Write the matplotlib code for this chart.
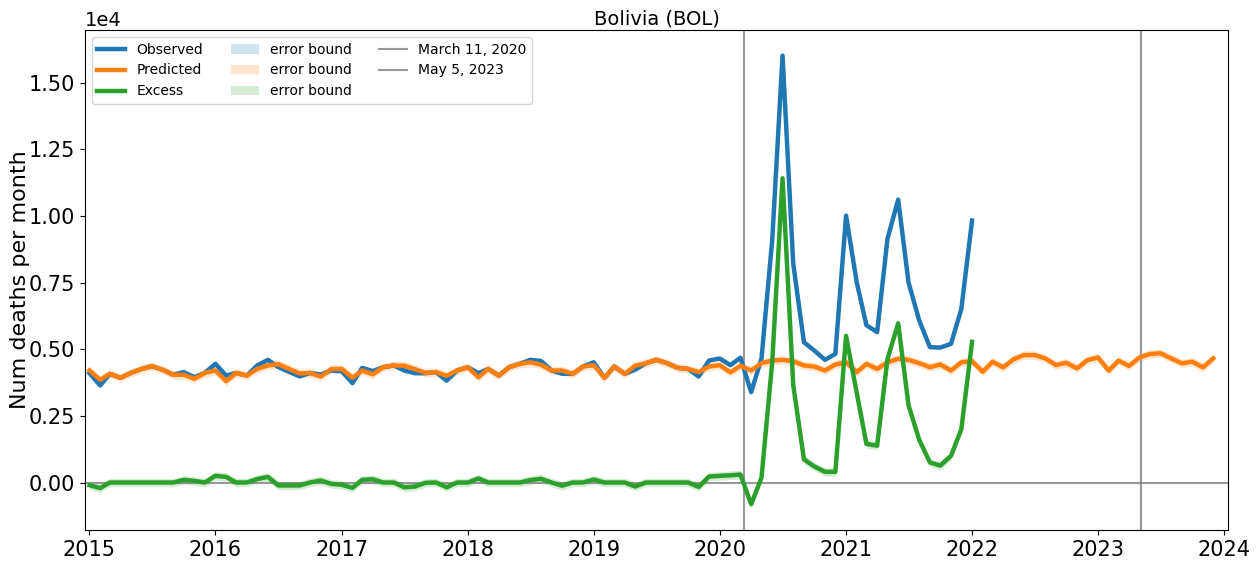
import matplotlib
matplotlib.use("Agg")
import matplotlib.pyplot as plt
import matplotlib.dates as mdates
import numpy as np
import pandas as pd

title = "Bolivia (BOL)"
first_month = "2015-01-01"

# monthly deaths, Jan 2015 .. Jan 2022
observed = [
    4100, 3640, 4075, 3925, 4110, 4260, 4360, 4225, 4040, 4140, 3950, 4110,
    4450, 4010, 4110, 4010, 4390, 4600, 4330, 4150, 3980, 4110, 4050, 4200,
    4175, 3725, 4300, 4180, 4325, 4390, 4200, 4100, 4100, 4140, 3820, 4200,
    4325, 4100, 4260, 4010, 4325, 4450, 4600, 4560, 4200, 4080, 4075, 4350,
    4510, 3925, 4350, 4075, 4230, 4475, 4600, 4475, 4300, 4260, 3975, 4575,
    4650, 4400, 4680, 3390, 4650, 9075, 16010, 8200, 5260, 4950, 4600, 4825,
    10010, 7500, 5900, 5640, 9140, 10610, 7500, 6075, 5075, 5060, 5200, 6510,
    9825,
]
# model baseline, Jan 2015 .. Dec 2023
predicted = [
    4200, 3850, 4075, 3925, 4110, 4260, 4360, 4225, 4040, 4040, 3890, 4110,
    4200, 3800, 4110, 4010, 4260, 4390, 4440, 4260, 4090, 4110, 3975, 4250,
    4260, 3925, 4200, 4060, 4325, 4390, 4380, 4250, 4110, 4140, 4000, 4200,
    4325, 3950, 4260, 4010, 4325, 4450, 4510, 4420, 4200, 4200, 4075, 4350,
    4400, 3925, 4350, 4075, 4380, 4475, 4600, 4475, 4300, 4260, 4140, 4350,
    4400, 4130, 4380, 4200, 4475, 4575, 4600, 4550, 4390, 4350, 4200, 4425,
    4510, 4140, 4450, 4260, 4510, 4640, 4600, 4475, 4325, 4425, 4200, 4510,
    4550, 4155, 4530, 4320, 4620, 4780, 4780, 4655, 4405, 4490, 4280, 4590,
    4690, 4195, 4570, 4370, 4690, 4820, 4845, 4655, 4470, 4530, 4320, 4655,
]
err_observed = 40
err_predicted = 160

markers = ["2020-03-11", "2023-05-05"]
marker_labels = ["March 11, 2020", "May 5, 2023"]

dates = pd.date_range(first_month, periods=len(predicted), freq="MS")
obs = np.array(observed, dtype=float)
pred = np.array(predicted, dtype=float)
obs_dates = dates[:len(obs)]
excess = obs - pred[:len(obs)]

fig = plt.figure(figsize=(12.59, 5.61), dpi=100)
ax = fig.add_axes([0.0675, 0.0553, 0.9080, 0.8912])

blue, orange, green = "#1f77b4", "#ff7f0e", "#2ca02c"
lw = 3.2

l1, = ax.plot(obs_dates, obs, color=blue, lw=lw, label="Observed", zorder=3)
l2, = ax.plot(dates, pred, color=orange, lw=lw, label="Predicted", zorder=3)
l3, = ax.plot(obs_dates, excess, color=green, lw=lw, label="Excess", zorder=3)

f1 = ax.fill_between(obs_dates, obs - err_observed, obs + err_observed,
                     color=blue, alpha=0.2, lw=0, label="error bound")
f2 = ax.fill_between(dates, pred - err_predicted, pred + err_predicted,
                     color=orange, alpha=0.2, lw=0, label="error bound")
f3 = ax.fill_between(obs_dates, excess - err_predicted, excess + err_predicted,
                     color=green, alpha=0.2, lw=0, label="error bound")

ax.axhline(0, color="grey", lw=1.5, alpha=0.8, zorder=1)
vl = []
for d, lab in zip(markers, marker_labels):
    vl.append(ax.axvline(pd.Timestamp(d), color="grey", lw=1.5, alpha=0.8,
                         label=lab, zorder=1))

ax.set_xlim(pd.Timestamp("2014-12-19"), pd.Timestamp("2024-01-13"))
ax.set_ylim(-1780, 16970)
ax.xaxis.set_major_locator(mdates.YearLocator())
ax.xaxis.set_major_formatter(mdates.DateFormatter("%Y"))
ax.ticklabel_format(axis="y", style="sci", scilimits=(0, 0))
ax.yaxis.get_offset_text().set_fontsize(14)
ax.tick_params(labelsize=15)

ax.set_title(title, fontsize=14, pad=4)
ax.set_ylabel("Num deaths per month", fontsize=16, labelpad=-1)

ax.legend(handles=[l1, l2, l3, f1, f2, f3] + vl, ncol=3, loc="upper left",
          fontsize=10, framealpha=0.8)

fig.savefig("out.png", dpi=100)
